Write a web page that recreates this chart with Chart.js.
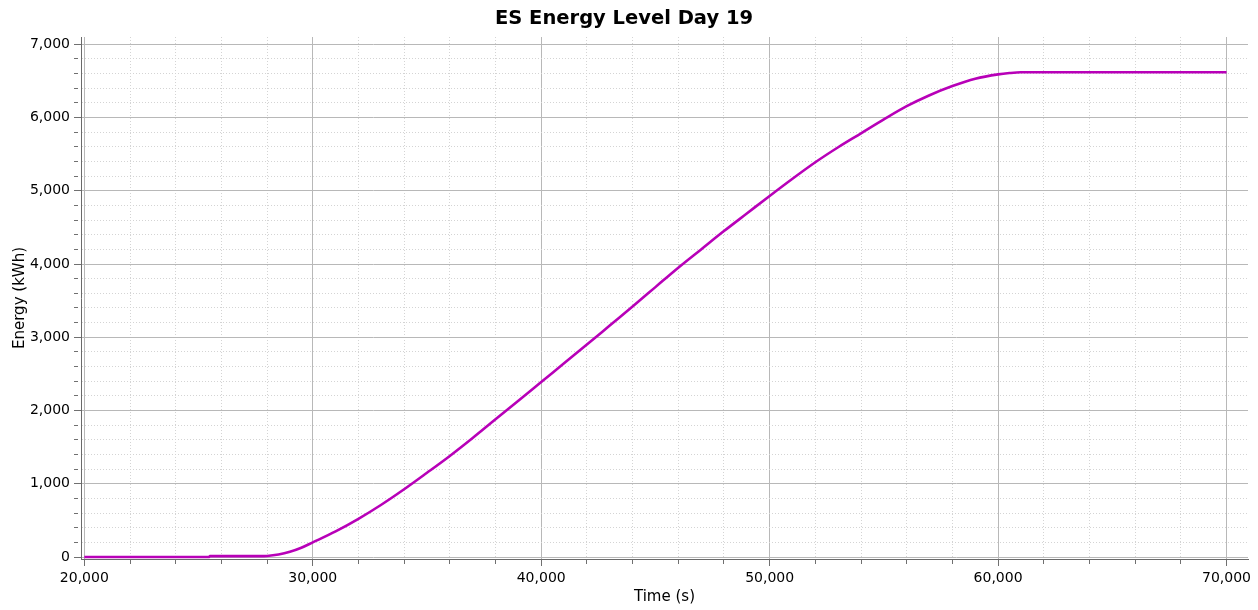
<!DOCTYPE html>
<html>
<head>
<meta charset="utf-8">
<title>ES Energy Level Day 19</title>
<script src="https://cdn.jsdelivr.net/npm/chart.js@4.4.0/dist/chart.umd.min.js"></script>
<style>
    html, body { margin: 0; padding: 0; background: #ffffff; }
    #wrap { width: 1258px; height: 610px; position: relative; }
</style>
</head>
<body>
<div id="wrap"><canvas id="graficoEnergia"></canvas></div>
<script>
// Datos
const timeValues = [
    20000, 25450, 25500, 27700, 28000, 28500, 29000, 29500, 30000, 31000,
    32000, 33000, 34000, 35000, 36000, 37000, 38000, 39000, 40000, 41000,
    42000, 43000, 44000, 45000, 46000, 47000, 48000, 49000, 50000, 51000,
    52000, 53000, 54000, 55000, 56000, 57000, 58000, 59000, 60000, 60500,
    61000, 70000
];
const energyValues = [
    0, 0, 12, 12, 15, 35, 72, 127, 200, 350,
    522, 714, 925, 1150, 1380, 1625, 1880, 2135, 2390, 2645,
    2900, 3160, 3420, 3685, 3950, 4200, 4450, 4690, 4930, 5165,
    5390, 5595, 5785, 5975, 6155, 6305, 6430, 6530, 6590, 6608,
    6618, 6618
];
const xTickLabels = [20000, 30000, 40000, 50000, 60000, 70000];
const yTickLabels = [0, 1000, 2000, 3000, 4000, 5000, 6000, 7000];
const xMinorStep = 2000;
const yMinorStep = 200;

const fontFamily = '"DejaVu Sans", Tahoma, Verdana, sans-serif';
const fmt = v => v.toLocaleString('en-US');

// lista de ticks (mayores + menores) entre la primera y la ultima etiqueta
function buildTicks(labels, step) {
    const ticks = [];
    for (let v = labels[0]; v <= labels[labels.length - 1]; v += step) {
        ticks.push({ value: v });
    }
    return ticks;
}

function gridOptions(labels) {
    return {
        color: ctx => labels.includes(ctx.tick.value) ? '#b8b8b8' : '#d4d4d4',
        lineWidth: 1,
        tickLength: 7,
        tickColor: '#707070',
        tickBorderDash: ctx => labels.includes(ctx.tick.value) ? [] : [4, 20]
    };
}

function borderOptions(labels) {
    return {
        display: true,
        color: '#6a6a6a',
        width: 1,
        dash: ctx => (ctx.tick && !labels.includes(ctx.tick.value)) ? [1, 2] : []
    };
}

document.addEventListener('DOMContentLoaded', function() {
    const ctx = document.getElementById('graficoEnergia').getContext('2d');
    const points = timeValues.map((t, i) => ({ x: t, y: energyValues[i] }));

    new Chart(ctx, {
        type: 'scatter',
        data: {
            datasets: [{
                label: 'ES Energy',
                data: points,
                showLine: true,
                borderColor: '#b800b8',
                backgroundColor: '#b800b8',
                borderWidth: 2.6,
                pointRadius: 0,
                cubicInterpolationMode: 'monotone'
            }]
        },
        options: {
            responsive: true,
            maintainAspectRatio: false,
            animation: false,
            layout: { padding: { left: 0, right: 10, top: 0, bottom: 0 } },
            plugins: {
                legend: { display: false },
                tooltip: { enabled: false },
                title: {
                    display: true,
                    text: 'ES Energy Level Day 19',
                    color: '#000000',
                    font: { family: fontFamily, size: 19.5, weight: 'bold', lineHeight: 1.2 },
                    padding: { top: 7, bottom: 6.6 }
                }
            },
            scales: {
                x: {
                    type: 'linear',
                    min: 19855,
                    max: 70940,
                    afterBuildTicks: scale => { scale.ticks = buildTicks(xTickLabels, xMinorStep); },
                    afterFit: scale => { scale.height = 51; },
                    ticks: {
                        autoSkip: false,
                        maxRotation: 0,
                        padding: 4,
                        color: '#000000',
                        font: { family: fontFamily, size: 14 },
                        callback: value => xTickLabels.includes(value) ? fmt(value) : ''
                    },
                    grid: gridOptions(xTickLabels),
                    border: borderOptions(xTickLabels),
                    title: {
                        display: true,
                        text: 'Time (s)',
                        color: '#000000',
                        font: { family: fontFamily, size: 15 },
                        padding: { top: 0, bottom: 4 }
                    }
                },
                y: {
                    type: 'linear',
                    min: -27,
                    max: 7100,
                    afterBuildTicks: scale => { scale.ticks = buildTicks(yTickLabels, yMinorStep); },
                    afterFit: scale => { scale.width = 81; },
                    ticks: {
                        autoSkip: false,
                        padding: 4,
                        color: '#000000',
                        font: { family: fontFamily, size: 14 },
                        callback: value => yTickLabels.includes(value) ? fmt(value) : ''
                    },
                    grid: gridOptions(yTickLabels),
                    border: borderOptions(yTickLabels),
                    title: {
                        display: true,
                        text: 'Energy (kWh)',
                        color: '#000000',
                        font: { family: fontFamily, size: 15 },
                        padding: { top: 11, bottom: 0 }
                    }
                }
            }
        }
    });
});
</script>
</body>
</html>
